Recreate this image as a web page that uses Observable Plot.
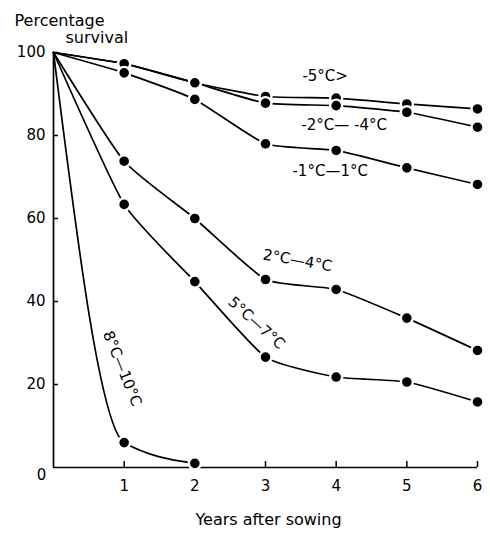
<!DOCTYPE html>
<html><head><meta charset="utf-8">
<script src="https://cdn.jsdelivr.net/npm/d3@7"></script>
<script src="https://cdn.jsdelivr.net/npm/@observablehq/plot@0.6"></script>
<style>body{margin:0;background:#fff} #chart svg{font-family:"DejaVu Sans",sans-serif;background:#fff}</style>
</head><body><div id="chart"></div>
<script>
const years = [0, 1, 2, 3, 4, 5, 6];
const seriesNames = ["-5°C>", "-2°C— -4°C", "-1°C—1°C", "2°C—4°C", "5°C—7°C", "8°C—10°C"];
const survMinus5 = [100, 97.3, 92.7, 89.4, 89.0, 87.6, 86.4];
const survMinus2to4 = [100, 97.3, 92.7, 87.8, 87.2, 85.6, 82.0];
const survMinus1to1 = [100, 95.1, 88.7, 78.0, 76.4, 72.2, 68.2];
const surv2to4 = [100, 73.8, 60.0, 45.3, 42.9, 36.0, 28.2];
const surv5to7 = [100, 63.4, 44.8, 26.6, 21.8, 20.6, 15.8];
const surv8to10 = [100, 6.0, 1.0];
const xTicks = [1, 2, 3, 4, 5, 6];
const yTicks = [20, 40, 60, 80, 100];
const originLabel = "0";
const titleLines = ["Percentage", "survival"];
const xLabel = "Years after sowing";

const seriesValues = [survMinus5, survMinus2to4, survMinus1to1, surv2to4, surv5to7, surv8to10];
const rows = seriesValues.flatMap((vals, s) =>
  vals.map((v, i) => ({series: seriesNames[s], year: years[i], value: v})));
const lastSeries = seriesNames[seriesNames.length - 1];

// label placement (anchor point index, pixel offsets, rotation)
const labelStyle = [
  {i: 4, dx: -11, dy: -22, rotate: 0},
  {i: 4, dx: 8, dy: 20, rotate: 0},
  {i: 4, dx: -6, dy: 21, rotate: 0},
  {i: 3, dx: 32, dy: -19, rotate: 10},
  {i: 3, dx: -9, dy: -34, rotate: 42},
  {i: 1, dx: -2, dy: -74, rotate: 68}
];

const labelMarks = labelStyle.map((st, s) => Plot.text(
  [{x: years[st.i], y: seriesValues[s][st.i], t: seriesNames[s]}],
  {x: "x", y: "y", text: "t", dx: st.dx, dy: st.dy, rotate: st.rotate,
   fontSize: 15, fill: "black", letterSpacing: 0.3}));

const chart = Plot.plot({
  width: 490,
  height: 535,
  marginLeft: 53,
  marginRight: 13,
  marginTop: 52,
  marginBottom: 68,
  x: {domain: [0, 6], axis: null},
  y: {domain: [0, 100], axis: null},
  marks: [
    Plot.ruleY([0], {stroke: "black", strokeWidth: 1.7}),
    Plot.ruleX([0], {stroke: "black", strokeWidth: 1.7}),
    Plot.ruleX(xTicks, {x: d => d, y1: 0, y2: 0, insetTop: -6, stroke: "black", strokeWidth: 1.5}),
    Plot.ruleY(yTicks, {y: d => d, x1: 0, x2: 0, insetRight: -5, stroke: "black", strokeWidth: 1.5}),
    Plot.axisX(xTicks, {tickSize: 0, tickPadding: 13, fontSize: 15, tickFormat: d => String(d)}),
    Plot.axisY(yTicks, {tickSize: 0, tickPadding: 8, fontSize: 15, letterSpacing: 0.5, tickFormat: d => String(d)}),
    Plot.text([originLabel], {x: 0, y: 0, text: d => d, dx: -12, dy: 8, fontSize: 15}),
    Plot.line(rows.filter(d => d.series !== lastSeries), {x: "year", y: "value", z: "series", curve: "cardinal", tension: 0.5, stroke: "black", strokeWidth: 1.7}),
    Plot.line(rows.filter(d => d.series === lastSeries), {x: "year", y: "value", curve: "monotone-x", stroke: "black", strokeWidth: 1.7}),
    Plot.dot(rows.filter(d => d.year > 0), {x: "year", y: "value", r: 6, fill: "black", stroke: "white", strokeWidth: 2.4}),
    ...labelMarks,
    Plot.text([titleLines[0]], {frameAnchor: "top-left", text: d => d, textAnchor: "start", dx: -39, dy: -38, fontSize: 16, letterSpacing: 1.2}),
    Plot.text([titleLines[1]], {frameAnchor: "top-left", text: d => d, textAnchor: "start", dx: 12, dy: -21, fontSize: 16, letterSpacing: 1.2}),
    Plot.text([xLabel], {frameAnchor: "bottom", text: d => d, dx: 3, dy: 57, fontSize: 16, letterSpacing: 1.5, wordSpacing: 6})
  ]
});
document.getElementById("chart").append(chart);
</script>
</body></html>
